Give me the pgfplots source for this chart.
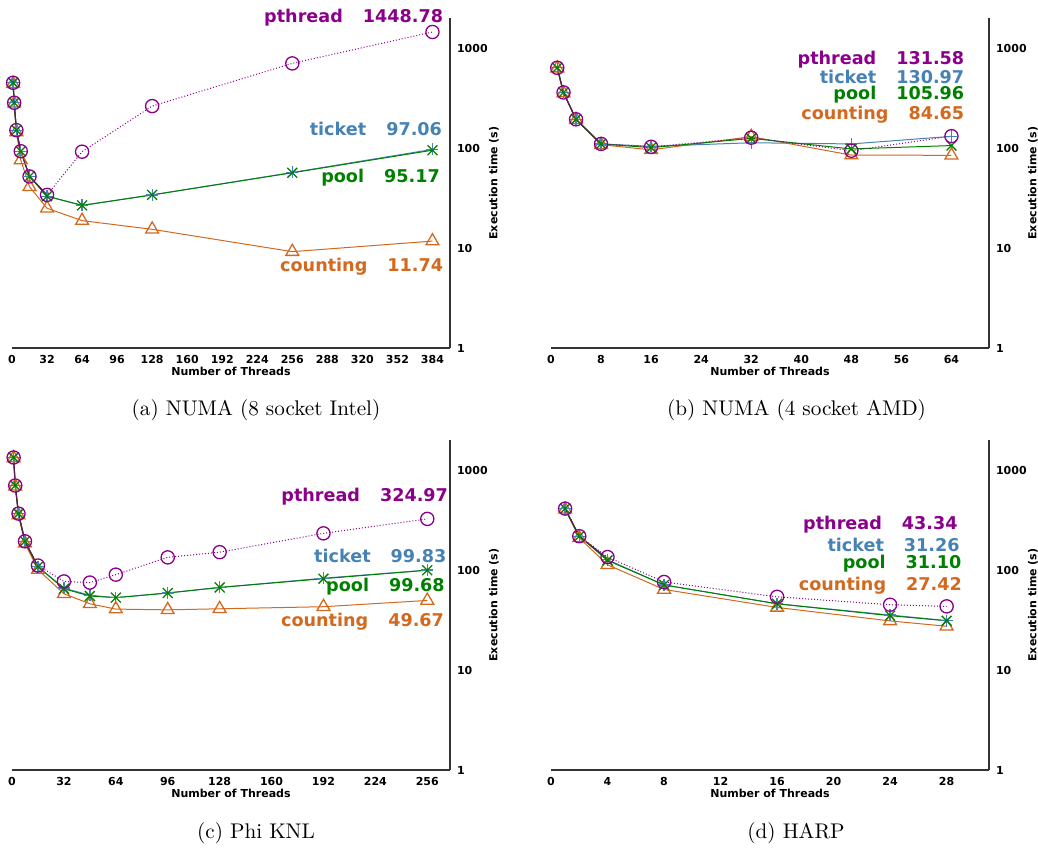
\documentclass[border=0pt]{standalone}
\usepackage{fontspec}
\usepackage{pgfplots}
\pgfplotsset{compat=1.18}
\newfontfamily\dv{DejaVu Sans}
\newcommand\tickfont{\dv\bfseries\fontsize{5.5}{6}\selectfont}
\newcommand\annfont{\dv\bfseries\fontsize{8.8}{10}\selectfont}
\definecolor{pthc}{HTML}{8B008B}
\definecolor{tktc}{HTML}{4682B4}
\definecolor{poolc}{HTML}{008000}
\definecolor{cntc}{HTML}{D2691E}
\definecolor{darkc}{HTML}{3E3030}

\pgfplotsset{
  every axis/.append style={
    scale only axis, width=219pt, height=165pt,
    axis x line=bottom, axis y line=right,
    axis line style={-, black!80, line width=0.6pt},
    major tick length=0pt, minor tick length=0pt,
    tick label style={font=\tickfont},
    xlabel style={font=\tickfont, at={(axis description cs:0.5,-0.07)}, anchor=center},
    ylabel style={font=\tickfont, at={(axis description cs:1.1,0.5)}, anchor=center},
    clip=false,
  },
}
\tikzset{
  pth/.style={color=pthc, densely dotted, line width=0.5pt, mark=o, mark size=3.3pt, mark options={solid, line width=0.65pt}},
  tkt/.style={color=tktc, line width=0.5pt, mark=+, mark size=3pt, mark options={line width=0.65pt}},
  pol/.style={color=poolc, line width=0.5pt, mark=x, mark size=3.5pt, mark options={line width=0.65pt}},
  cnt/.style={color=cntc, line width=0.5pt, mark=triangle, mark size=3.7pt, mark options={line width=0.65pt}},
  drk/.style={color=darkc, line width=0.6pt},
  ann/.style={anchor=east, inner sep=0pt, font=\annfont},
}

\begin{document}
\begin{tikzpicture}
\useasboundingbox (0,0) rectangle (519pt,-424pt);

% (a) NUMA 8 socket Intel
\begin{axis}[at={(6pt,-174pt)}, anchor=south west,
  ymode=log, ymin=1, ymax=2000,
  ytick={1,10,100,1000}, yticklabels={1,10,100,1000},
  xmin=0, xmax=400, xtick={0,32,64,96,128,160,192,224,256,288,320,352,384},
  xticklabels={0,32,64,96,128,160,192,224,256,288,320,352,384},
  xlabel={Number of Threads}, ylabel={Execution time (s)}]
\addplot[cnt] coordinates {(1,440)(2,280)(4,145)(8,76)(16,41)(32,25)(64,18.8)(128,15.4)(256,9.2)(384,11.74)};
\addplot[tkt] coordinates {(1,450)(2,284)(4,151)(8,93)(16,52)(32,33)(64,26.7)(128,34)(256,57)(384,97.06)};
\addplot[pol] coordinates {(1,450)(2,284)(4,151)(8,93)(16,52)(32,33)(64,26.7)(128,34)(256,56.6)(384,95.17)};
\addplot[drk, no marks] coordinates {(1,450)(2,284)(4,151)(8,93)(16,52)(32,34)};
\addplot[pth] coordinates {(1,450)(2,284)(4,151)(8,93)(16,52)(32,34)(64,92)(128,263)(256,703)(384,1448.78)};
\node[ann, text=pthc] at (axis cs:394,1995) {pthread\hspace{10pt}1448.78};
\node[ann, text=tktc] at (axis cs:393,155) {ticket\hspace{10pt}97.06};
\node[ann, text=poolc] at (axis cs:391,51) {pool\hspace{10pt}95.17};
\node[ann, text=cntc] at (axis cs:394,6.5) {counting\hspace{10pt}11.74};
\end{axis}

% (b) NUMA 4 socket AMD
\begin{axis}[at={(275.5pt,-174pt)}, anchor=south west,
  ymode=log, ymin=1, ymax=2000,
  ytick={1,10,100,1000}, yticklabels={1,10,100,1000},
  xmin=0, xmax=70, xtick={0,8,16,24,32,40,48,56,64},
  xticklabels={0,8,16,24,32,40,48,56,64},
  xlabel={Number of Threads}, ylabel={Execution time (s)}]
\addplot[cnt] coordinates {(1,630)(2,355)(4,192)(8,108)(16,96)(32,130)(48,85)(64,84.65)};
\addplot[tkt] coordinates {(1,635)(2,360)(4,194)(8,110)(16,104)(32,113)(48,110)(64,130.97)};
\addplot[pol] coordinates {(1,635)(2,360)(4,194)(8,110)(16,101)(32,125)(48,98)(64,105.96)};
\addplot[drk, no marks] coordinates {(1,635)(2,360)(4,194)(8,110)};
\addplot[pth] coordinates {(1,635)(2,360)(4,194)(8,110)(16,103)(32,127)(48,94)(64,131.58)};
\node[ann, text=pthc] at (axis cs:66.1,765) {pthread\hspace{10pt}131.58};
\node[ann, text=tktc] at (axis cs:66.1,510) {ticket\hspace{10pt}130.97};
\node[ann, text=poolc] at (axis cs:66.1,340) {pool\hspace{10pt}105.96};
\node[ann, text=cntc] at (axis cs:66.1,214) {counting\hspace{10pt}84.65};
\end{axis}

% (c) Phi KNL
\begin{axis}[at={(6pt,-385pt)}, anchor=south west,
  ymode=log, ymin=1, ymax=2000,
  ytick={1,10,100,1000}, yticklabels={1,10,100,1000},
  xmin=0, xmax=270, xtick={0,32,64,96,128,160,192,224,256},
  xticklabels={0,32,64,96,128,160,192,224,256},
  xlabel={Number of Threads}, ylabel={Execution time (s)}]
\addplot[cnt] coordinates {(1,1320)(2,690)(4,355)(8,185)(16,101)(32,58)(48,46)(64,40.7)(96,40)(128,41)(192,43)(256,49.67)};
\addplot[tkt] coordinates {(1,1337)(2,701)(4,367)(8,194)(16,108)(32,66)(48,56)(64,53)(96,59)(128,67)(192,83)(256,99.83)};
\addplot[pol] coordinates {(1,1337)(2,701)(4,367)(8,194)(16,108)(32,65)(48,55)(64,53)(96,59)(128,67)(192,82)(256,99.68)};
\addplot[drk, no marks] coordinates {(1,1337)(2,701)(4,367)(8,194)(16,108)};
\addplot[pth] coordinates {(1,1337)(2,701)(4,367)(8,194)(16,111)(32,77)(48,75)(64,90)(96,134)(128,151)(192,233)(256,324.97)};
\node[ann, text=pthc] at (axis cs:269,547) {pthread\hspace{10pt}324.97};
\node[ann, text=tktc] at (axis cs:268,139) {ticket\hspace{10pt}99.83};
\node[ann, text=poolc] at (axis cs:267,68.7) {pool\hspace{10pt}99.68};
\node[ann, text=cntc] at (axis cs:266.5,30.6) {counting\hspace{10pt}49.67};
\end{axis}

% (d) HARP
\begin{axis}[at={(275.5pt,-385pt)}, anchor=south west,
  ymode=log, ymin=1, ymax=2000,
  ytick={1,10,100,1000}, yticklabels={1,10,100,1000},
  xmin=0, xmax=31, xtick={0,4,8,12,16,20,24,28},
  xticklabels={0,4,8,12,16,20,24,28},
  xlabel={Number of Threads}, ylabel={Execution time (s)}]
\addplot[cnt] coordinates {(1,405)(2,210)(4,113)(8,64)(16,42.3)(24,31)(28,27.42)};
\addplot[tkt] coordinates {(1,412)(2,218)(4,127)(8,71)(16,46)(24,35.5)(28,31.26)};
\addplot[pol] coordinates {(1,412)(2,218)(4,125)(8,71)(16,46)(24,35)(28,31.10)};
\addplot[drk, no marks] coordinates {(1,412)(2,218)(4,130)};
\addplot[pth] coordinates {(1,412)(2,218)(4,135)(8,76)(16,54)(24,45)(28,43.34)};
\node[ann, text=pthc] at (axis cs:28.8,285) {pthread\hspace{10pt}43.34};
\node[ann, text=tktc] at (axis cs:28.95,180) {ticket\hspace{10pt}31.26};
\node[ann, text=poolc] at (axis cs:29.07,116) {pool\hspace{10pt}31.10};
\node[ann, text=cntc] at (axis cs:29.1,69) {counting\hspace{10pt}27.42};
\end{axis}

\node[font=\fontsize{10.6}{12}\selectfont] at (128pt,-205pt) {(a) NUMA (8 socket Intel)};
\node[font=\fontsize{10.6}{12}\selectfont] at (398.25pt,-205pt) {(b) NUMA (4 socket AMD)};
\node[font=\fontsize{10.6}{12}\selectfont] at (128pt,-416.5pt) {(c) Phi KNL};
\node[font=\fontsize{10.6}{12}\selectfont] at (398pt,-416.5pt) {(d) HARP};
\end{tikzpicture}
\end{document}
